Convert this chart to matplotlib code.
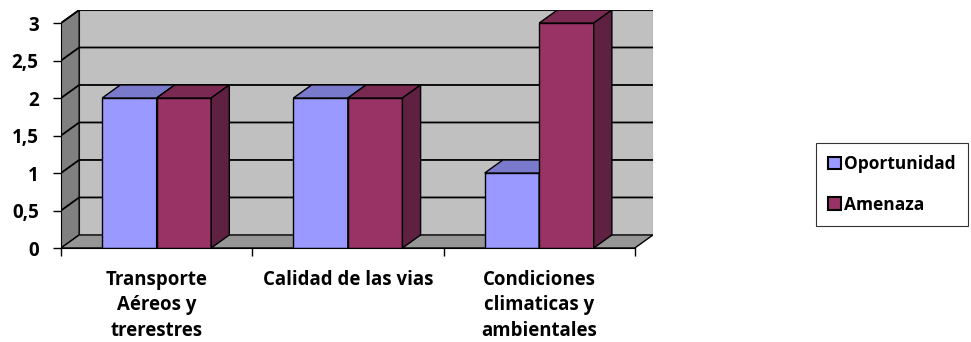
import matplotlib.pyplot as plt
from matplotlib.patches import Polygon, Patch

# Datos del gráfico
categorias = ['Transporte\nAéreos y\ntrerestres', 'Calidad de las vias',
              'Condiciones\nclimaticas y\nambientales']
series = ['Oportunidad', 'Amenaza']
oportunidad = [2, 2, 1]
amenaza = [2, 2, 3]
valores_y = [0, 0.5, 1, 1.5, 2, 2.5, 3]
etiquetas_y = ['0', '0,5', '1', '1,5', '2', '2,5', '3']

# Colores estilo Excel 2003: frente, tapa, lateral
colores = {
    'Oportunidad': ('#9999ff', '#7a7acc', '#5c5c99'),
    'Amenaza': ('#993366', '#7a2952', '#5f2141'),
}

plt.rcParams['font.family'] = ['Open Sans', 'DejaVu Sans']
plt.rcParams['font.weight'] = 'bold'

fig = plt.figure(figsize=(9.71, 3.42), dpi=100)
ax = fig.add_axes([61 / 971, 94 / 342, 592 / 971, 238 / 342])

# profundidad del efecto 3D (en unidades de datos)
dx = 0.095
dy = 0.174
ymax = valores_y[-1]
x0, x1 = -0.5, len(categorias) - 0.5
ax.set_xlim(x0, x1 + dx)
ax.set_ylim(0, ymax + dy)

# paredes: fondo, lateral y piso
ax.add_patch(Polygon([(x0 + dx, dy), (x1 + dx, dy), (x1 + dx, ymax + dy), (x0 + dx, ymax + dy)],
                     closed=True, fc='#c0c0c0', ec='#999999', lw=1, zorder=1))
ax.add_patch(Polygon([(x0, 0), (x0 + dx, dy), (x0 + dx, ymax + dy), (x0, ymax)],
                     closed=True, fc='#808080', ec='black', lw=1, zorder=1))
ax.add_patch(Polygon([(x0, 0), (x0 + dx, dy), (x1 + dx, dy), (x1, 0)],
                     closed=True, fc='#969696', ec='black', lw=1, zorder=1))

# lineas de division
for v in valores_y[1:]:
    ax.plot([x0, x0 + dx, x1 + dx], [v, v + dy, v + dy], color='black', lw=1.3, zorder=2)

# barras con frente, tapa y lateral
ancho = 0.285
for i in range(len(categorias)):
    for j, (nombre, vals) in enumerate(zip(series, [oportunidad, amenaza])):
        frente, tapa, lado = colores[nombre]
        a = i - ancho + j * ancho
        b = a + ancho
        v = vals[i]
        z = 3 + i * 2 + j
        ax.add_patch(Polygon([(a, 0), (b, 0), (b, v), (a, v)], closed=True,
                             fc=frente, ec='black', lw=1, zorder=z))
        ax.add_patch(Polygon([(a, v), (a + dx, v + dy), (b + dx, v + dy), (b, v)], closed=True,
                             fc=tapa, ec='black', lw=1, zorder=z))
        ax.add_patch(Polygon([(b, 0), (b + dx, dy), (b + dx, v + dy), (b, v)], closed=True,
                             fc=lado, ec='black', lw=1, zorder=z))

# ejes
for s in ['top', 'right']:
    ax.spines[s].set_visible(False)
ax.spines['left'].set_bounds(0, ymax)
ax.spines['bottom'].set_bounds(x0, x1)
ax.spines['left'].set_zorder(10)
ax.spines['bottom'].set_zorder(10)

ax.set_yticks(valores_y)
ax.set_yticklabels(etiquetas_y, fontsize=13.5, fontweight='bold')
ax.tick_params(axis='y', length=6, width=1, pad=10)

ax.set_xticks([x0 + k for k in range(len(categorias) + 1)])
ax.set_xticklabels([])
ax.set_xticks(range(len(categorias)), minor=True)
ax.set_xticklabels(categorias, minor=True, fontsize=13.4, fontweight='bold',
                   linespacing=1.35, va='top')
ax.tick_params(axis='x', which='major', length=6, width=1)
ax.tick_params(axis='x', which='minor', length=0, pad=16)

# leyenda
handles = [Patch(fc=colores[n][0], ec='black', lw=1.5) for n in series]
leg = fig.legend(handles, series, loc='upper left', bbox_to_anchor=(816 / 971, 1 - 143 / 342),
                 frameon=True, fancybox=False, edgecolor='black', handlelength=0.75,
                 handleheight=0.75, handletextpad=0.15, labelspacing=1.3,
                 borderpad=0.7, borderaxespad=0, prop={'size': 12.5, 'weight': 'bold'})
leg.get_frame().set_linewidth(0.8)

fig.savefig('out.png', dpi=100)
